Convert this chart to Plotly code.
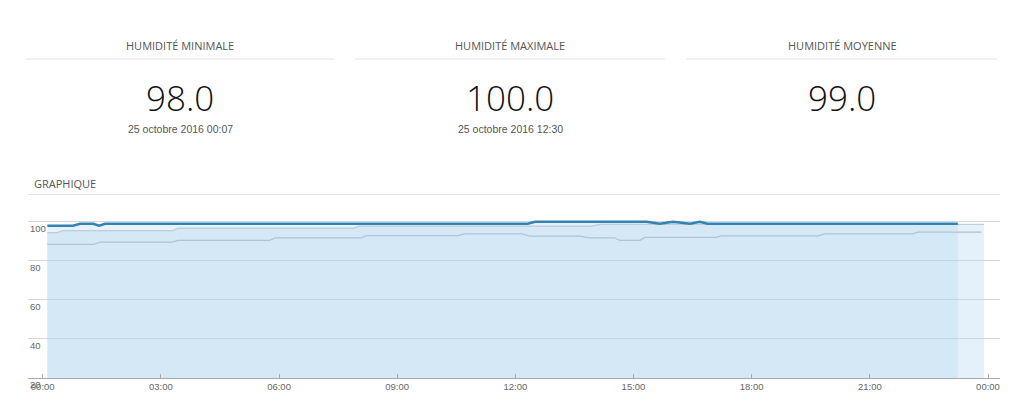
import plotly.graph_objects as go

DAY = "2016-10-25 "

# Main humidity series (dark blue)
hum_times = ["00:07", "00:46", "00:57", "01:17", "01:26", "01:35", "12:19", "12:30",
             "15:20", "15:40", "16:00", "16:26", "16:41", "16:53", "23:14"]
hum_values = [98, 98, 99, 99, 98, 99, 99, 100, 100, 99, 100, 99, 100, 99, 99]

# Upper reference line (gray)
upper_times = ["00:07", "00:22", "00:31", "03:19", "03:26", "07:53", "08:03", "13:56",
               "14:09", "23:54"]
upper_values = [94.5, 94.5, 95.5, 95.5, 96.8, 96.8, 97.8, 97.8, 98.7, 98.7]

# Lower reference line (gray)
lower_times = ["00:07", "01:17", "01:27", "03:18", "03:26", "05:46", "05:54", "08:06",
               "08:13", "10:32", "10:43", "12:10", "12:22", "13:38", "13:53", "14:31",
               "14:39", "15:10", "15:17", "17:06", "17:14", "19:41", "19:51", "22:05",
               "22:13", "23:50"]
lower_values = [88.4, 88.4, 89.6, 89.6, 90.5, 90.5, 91.8, 91.8, 92.9, 92.9, 93.8, 93.8,
                92.7, 92.7, 91.8, 91.8, 90.5, 90.5, 92.0, 92.0, 92.8, 92.8, 93.8, 93.8,
                94.7, 94.7]

y_ticks = [20, 40, 60, 80, 100]

stat_titles = ["HUMIDITÉ MINIMALE", "HUMIDITÉ MAXIMALE", "HUMIDITÉ MOYENNE"]
stat_values = ["98.0", "100.0", "99.0"]
stat_dates = ["25 octobre 2016 00:07", "25 octobre 2016 12:30", ""]
section_title = "GRAPHIQUE"


def ts(lst):
    return [DAY + t for t in lst]


OFF = 8                 # page body margin
W, H = 1024 - OFF, 409 - OFF
PLOT_BOTTOM = 378 - OFF  # px within figure
PLOT_TOP = 214 - OFF


def px(x):  # page x -> paper
    return (x - OFF) / W


def py(y):  # page y -> paper
    return (PLOT_BOTTOM - (y - OFF)) / PLOT_BOTTOM


fig = go.Figure()

fig.add_trace(go.Scatter(
    x=ts(upper_times), y=upper_values, mode="lines",
    line=dict(color="#c3ccd2", width=1.2),
    fill="tozeroy", fillcolor="rgba(170,210,238,0.30)", hoverinfo="skip"))

fig.add_trace(go.Scatter(
    x=ts(lower_times), y=lower_values, mode="lines",
    line=dict(color="#b3bfc7", width=1.2), hoverinfo="skip"))

fig.add_trace(go.Scatter(
    x=ts(hum_times), y=hum_values, mode="lines",
    line=dict(color="#3283b3", width=2.6),
    fill="tozeroy", fillcolor="rgba(170,210,238,0.28)", hoverinfo="skip"))

# invisible trace to activate the label axis
fig.add_trace(go.Scatter(x=[DAY + "00:00"], y=[50], yaxis="y2", mode="markers",
                         marker=dict(opacity=0), hoverinfo="skip"))

font_tick = dict(family="Liberation Sans, Arial, sans-serif", size=9.5, color="#666666")

fig.update_layout(
    width=W, height=H,
    margin=dict(l=0, r=0, t=0, b=H - PLOT_BOTTOM, autoexpand=False),
    paper_bgcolor="white", plot_bgcolor="rgba(0,0,0,0)",
    showlegend=False,
    xaxis=dict(
        type="date",
        domain=[px(28), px(1000)],
        range=["2016-10-24 23:37:36", "2016-10-26 00:18:17"],
        tick0="2016-10-25 00:00", dtick=3 * 3600 * 1000,
        tickformat="%H:%M",
        showgrid=False, zeroline=False,
        showline=True, linecolor="#a8a8a8", linewidth=1,
        ticks="inside", ticklen=4, tickcolor="#a8a8a8",
        tickfont=font_tick,
    ),
    yaxis=dict(
        domain=[0, (PLOT_BOTTOM - PLOT_TOP) / PLOT_BOTTOM],
        range=[20, 104],
        tickvals=y_ticks,
        showticklabels=False,
        showgrid=True, gridcolor="#d3d9dd", gridwidth=1,
        zeroline=False, showline=False,
    ),
    yaxis2=dict(
        overlaying="y", side="right", anchor="free", position=px(29),
        range=[20, 104], tickvals=y_ticks,
        ticklabelposition="outside bottom",
        showgrid=False, zeroline=False, showline=False, ticks="",
        tickfont=font_tick,
    ),
)

shapes = []
for x0, x1 in [(25, 335), (355, 665), (686, 997)]:
    shapes.append(dict(type="line", xref="paper", yref="paper",
                       x0=px(x0), x1=px(x1), y0=py(59), y1=py(59),
                       line=dict(color="#e3e3e3", width=1)))
shapes.append(dict(type="line", xref="paper", yref="paper",
                   x0=px(28), x1=px(1000), y0=py(194.5), y1=py(194.5),
                   line=dict(color="#e3e3e3", width=1)))
fig.update_layout(shapes=shapes)

annotations = []
centers = [180, 510, 842]
for cx, title, val, date in zip(centers, stat_titles, stat_values, stat_dates):
    annotations.append(dict(x=px(cx), y=py(46), xref="paper", yref="paper",
                            text=title, showarrow=False, xanchor="center", yanchor="middle",
                            font=dict(family="Open Sans, sans-serif", size=11, color="#555555")))
    annotations.append(dict(x=px(cx), y=py(97), xref="paper", yref="paper",
                            text=val, showarrow=False, xanchor="center", yanchor="middle",
                            font=dict(family="Open Sans, sans-serif", size=35, color="#111111",
                                      weight=300)))
    if date:
        annotations.append(dict(x=px(cx), y=py(129), xref="paper", yref="paper",
                                text=date, showarrow=False, xanchor="center", yanchor="middle",
                                font=dict(family="Liberation Sans, Arial, sans-serif", size=10.5,
                                          color="#555555")))
annotations.append(dict(x=px(32), y=py(183), xref="paper", yref="paper",
                        text=section_title, showarrow=False, xanchor="left", yanchor="middle",
                        font=dict(family="Open Sans, sans-serif", size=11, color="#555555")))
fig.update_layout(annotations=annotations)

fig.write_html("out.html", config={"displayModeBar": False})
